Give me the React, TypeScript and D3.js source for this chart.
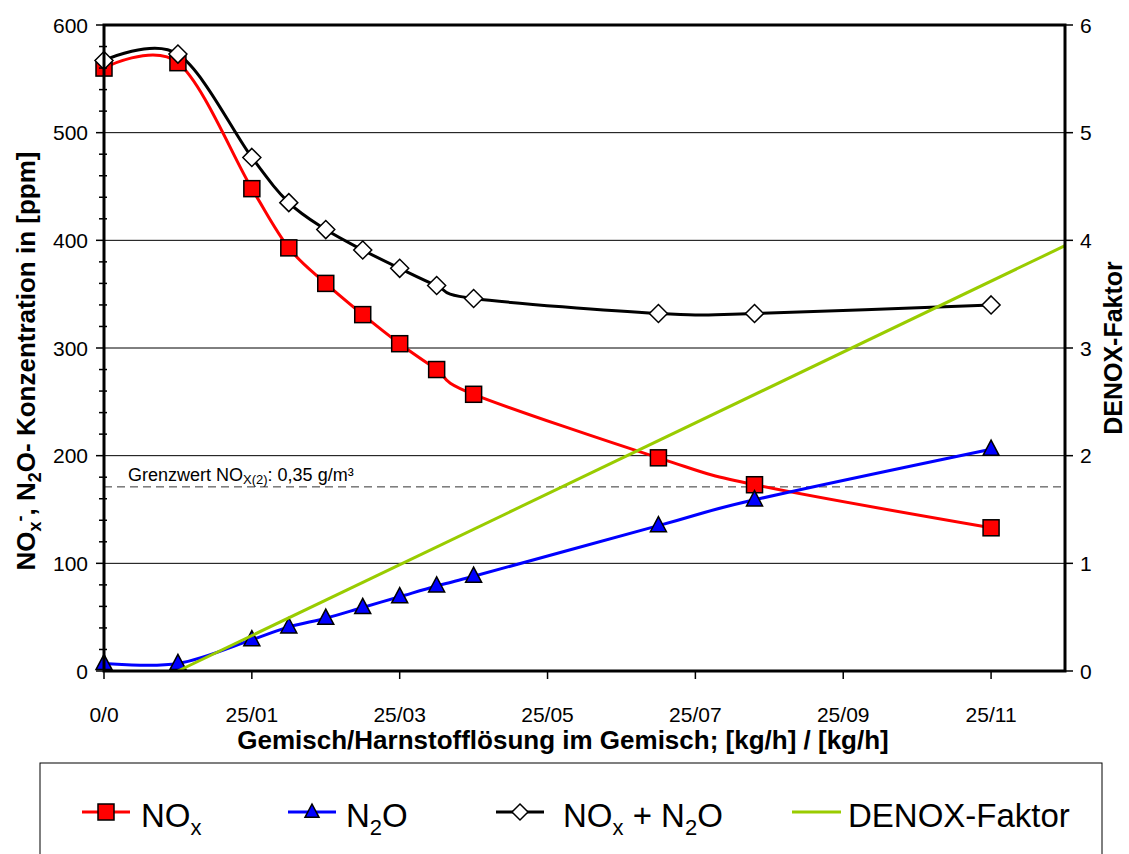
import React from "react";
import * as d3 from "d3";

const W = 1129;
const H = 854;
const plot = { left: 104, right: 1065, top: 25, bottom: 671 };

// x positions (kg/h), ticks labelled as in the original
const xValues = [0, 1, 2, 2.5, 3, 3.5, 4, 4.5, 5, 7.5, 8.8, 12];
const noxValues = [560, 565, 448, 393, 360, 331, 304, 280, 257, 198, 173, 133];
const n2oValues = [7, 7, 29, 41, 49, 59, 69, 79, 88, 135, 159, 206];
const sumValues = [567, 573, 477, 435, 410, 391, 374, 358, 346, 332, 332, 340];
const denoxX = [1, 13];
const denoxValues = [0, 3.95];
const grenzwert = 171;

const xTicks = [0, 2, 4, 6, 8, 10, 12];
const xTickLabels = ["0/0", "25/01", "25/03", "25/05", "25/07", "25/09", "25/11"];
const yTicks = [0, 100, 200, 300, 400, 500, 600];
const y2Ticks = [0, 1, 2, 3, 4, 5, 6];

const font = "Liberation Sans, Arial, sans-serif";

const x = d3.scaleLinear().domain([0, 13]).range([plot.left, plot.right]);
const y = d3.scaleLinear().domain([0, 600]).range([plot.bottom, plot.top]);
const y2 = d3.scaleLinear().domain([0, 6]).range([plot.bottom, plot.top]);

const smooth = d3
  .line<[number, number]>()
  .x((d) => x(d[0]))
  .y((d) => y(d[1]))
  .curve(d3.curveCardinal.tension(0));

const straight = d3
  .line<[number, number]>()
  .x((d) => x(d[0]))
  .y((d) => y2(d[1]));

function pairs(xs: number[], ys: number[]): [number, number][] {
  return xs.map((v, i) => [v, ys[i]]);
}

function Square({ cx, cy, s = 16 }: { cx: number; cy: number; s?: number }) {
  return (
    <rect x={cx - s / 2} y={cy - s / 2} width={s} height={s} fill="#ff0000" stroke="#000" strokeWidth={1.5} />
  );
}

function Triangle({ cx, cy, s = 16 }: { cx: number; cy: number; s?: number }) {
  const h = s * 0.95;
  const p = `${cx},${cy - h * 0.6} ${cx + s / 2},${cy + h * 0.4} ${cx - s / 2},${cy + h * 0.4}`;
  return <polygon points={p} fill="#0000ff" stroke="#000" strokeWidth={1.5} />;
}

function Diamond({ cx, cy, s = 9 }: { cx: number; cy: number; s?: number }) {
  const p = `${cx},${cy - s} ${cx + s},${cy} ${cx},${cy + s} ${cx - s},${cy}`;
  return <polygon points={p} fill="#fff" stroke="#000" strokeWidth={1.5} />;
}

export default function App() {
  const minor = d3.range(0, 601, 20).filter((v) => v % 100 !== 0);
  const legendY = 812;
  const legendFs = 33;
  const tickFs = 21;

  return (
    <svg
      width={W}
      height={H}
      style={{ position: "absolute", left: 0, top: 0, background: "#fff" }}
      fontFamily={font}
    >
      {/* grid */}
      {yTicks.map((t) => (
        <line key={"g" + t} x1={plot.left} x2={plot.right} y1={y(t)} y2={y(t)} stroke="#000" strokeWidth={1} />
      ))}

      {/* grenzwert */}
      <line
        x1={plot.left}
        x2={plot.right}
        y1={y(grenzwert)}
        y2={y(grenzwert)}
        stroke="#333"
        strokeWidth={1}
        strokeDasharray="8,5"
      />
      <text x={128} y={481} fontSize={18} fill="#000">
        Grenzwert NO
        <tspan fontSize={13} dy={3}>X(2)</tspan>
        <tspan dy={-3}>: 0,35 g/m³</tspan>
      </text>

      {/* series lines */}
      <path d={smooth(pairs(xValues, noxValues)) || ""} fill="none" stroke="#ff0000" strokeWidth={3} />
      <path d={smooth(pairs(xValues, n2oValues)) || ""} fill="none" stroke="#0000ff" strokeWidth={3} />
      <path d={smooth(pairs(xValues, sumValues)) || ""} fill="none" stroke="#000" strokeWidth={3} />

      {/* markers */}
      {xValues.map((v, i) => (
        <Square key={"s" + i} cx={x(v)} cy={y(noxValues[i])} />
      ))}
      {xValues.map((v, i) => (
        <Triangle key={"t" + i} cx={x(v)} cy={y(n2oValues[i])} />
      ))}
      {xValues.map((v, i) => (
        <Diamond key={"d" + i} cx={x(v)} cy={y(sumValues[i])} />
      ))}

      <path d={straight(pairs(denoxX, denoxValues)) || ""} fill="none" stroke="#99cc00" strokeWidth={3} />

      {/* frame */}
      <rect
        x={plot.left}
        y={plot.top}
        width={plot.right - plot.left}
        height={plot.bottom - plot.top}
        fill="none"
        stroke="#000"
        strokeWidth={3}
      />

      {/* left axis ticks */}
      {yTicks.map((t) => (
        <g key={"yl" + t}>
          <line x1={plot.left - 8} x2={plot.left} y1={y(t)} y2={y(t)} stroke="#000" strokeWidth={1.5} />
          <text x={88} y={y(t)} dy="0.36em" textAnchor="end" fontSize={tickFs}>
            {t}
          </text>
        </g>
      ))}
      {minor.map((t) => (
        <line key={"m" + t} x1={plot.left - 5} x2={plot.left + 3} y1={y(t)} y2={y(t)} stroke="#000" strokeWidth={1.5} />
      ))}

      {/* right axis ticks */}
      {y2Ticks.map((t) => (
        <g key={"yr" + t}>
          <line x1={plot.right} x2={plot.right + 8} y1={y2(t)} y2={y2(t)} stroke="#000" strokeWidth={1.5} />
          <text x={1080} y={y2(t)} dy="0.36em" textAnchor="start" fontSize={tickFs}>
            {t}
          </text>
        </g>
      ))}

      {/* x axis ticks */}
      {xTicks.map((t, i) => (
        <g key={"x" + t}>
          <line x1={x(t)} x2={x(t)} y1={plot.bottom} y2={plot.bottom + 8} stroke="#000" strokeWidth={1.5} />
          <text x={x(t)} y={722} textAnchor="middle" fontSize={tickFs}>
            {xTickLabels[i]}
          </text>
        </g>
      ))}

      {/* axis titles */}
      <text x={563} y={749} textAnchor="middle" fontSize={26} fontWeight="bold">
        Gemisch/Harnstofflösung im Gemisch; [kg/h] / [kg/h]
      </text>
      <text transform="translate(35,361) rotate(-90)" textAnchor="middle" fontSize={26} fontWeight="bold">
        NO
        <tspan fontSize={18} dy={6}>x</tspan>
        <tspan fontSize={18} dy={-15}>-</tspan>
        <tspan dy={9}>, N</tspan>
        <tspan fontSize={18} dy={6}>2</tspan>
        <tspan dy={-6}>O- Konzentration in [ppm]</tspan>
      </text>
      <text transform="translate(1122,348) rotate(-90)" textAnchor="middle" fontSize={25} fontWeight="bold">
        DENOX-Faktor
      </text>

      {/* legend */}
      <rect x={40} y={763} width={1062} height={120} fill="#fff" stroke="#000" strokeWidth={1} />
      <g>
        <line x1={82} x2={130} y1={legendY} y2={legendY} stroke="#ff0000" strokeWidth={3} />
        <Square cx={106} cy={legendY} s={16} />
        <text x={141} y={legendY + 15} fontSize={legendFs}>
          NO<tspan fontSize={22} dy={8}>x</tspan>
        </text>

        <line x1={288} x2={336} y1={legendY} y2={legendY} stroke="#0000ff" strokeWidth={3} />
        <Triangle cx={312} cy={legendY} s={14} />
        <text x={346} y={legendY + 15} fontSize={legendFs}>
          N<tspan fontSize={22} dy={8}>2</tspan>
          <tspan dy={-8}>O</tspan>
        </text>

        <line x1={496} x2={544} y1={legendY} y2={legendY} stroke="#000" strokeWidth={3} />
        <Diamond cx={520} cy={legendY} s={8} />
        <text x={563} y={legendY + 15} fontSize={legendFs}>
          NO<tspan fontSize={22} dy={8}>x</tspan>
          <tspan dy={-8}> + N</tspan>
          <tspan fontSize={22} dy={8}>2</tspan>
          <tspan dy={-8}>O</tspan>
        </text>

        <line x1={792} x2={841} y1={legendY} y2={legendY} stroke="#99cc00" strokeWidth={3} />
        <text x={848} y={legendY + 15} fontSize={legendFs}>
          DENOX-Faktor
        </text>
      </g>
    </svg>
  );
}
